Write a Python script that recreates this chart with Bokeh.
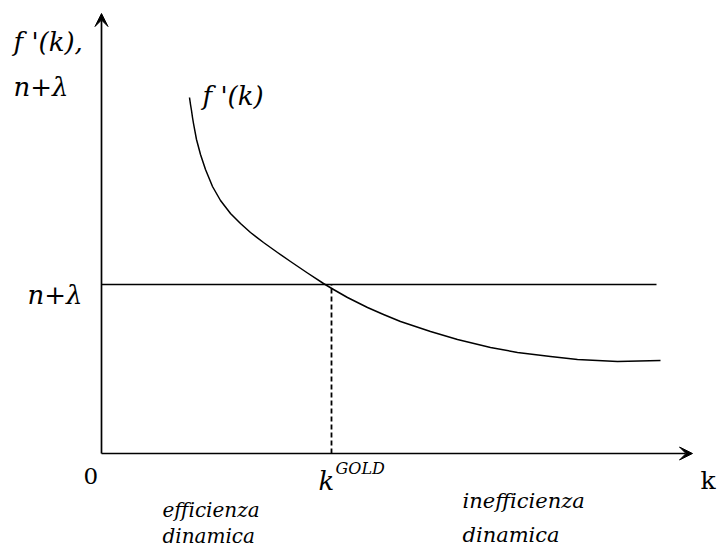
from bokeh.plotting import figure
from bokeh.models import Range1d, Arrow, VeeHead
from bokeh.core.properties import value
from bokeh.embed import file_html
from bokeh.resources import INLINE

# --- data (diagram units: origin at the axes corner) ---
curve_k = [88, 89, 90, 91, 92, 95, 99, 104, 111, 119, 129, 139, 149, 162, 176, 189, 206,
           222, 232, 246, 266, 282, 299, 329, 356, 389, 416, 449, 476, 516, 559]
curve_r = [356, 349, 343, 336, 330, 314, 299, 284, 267, 253, 240, 230, 221, 211, 201, 192, 180.5,
           170, 164, 156, 146, 139, 132, 122, 114, 106, 101, 97, 94, 92, 93]
n_lambda = 169          # level of n + lambda
k_gold = 230            # golden-rule capital stock
k_line_end = 555        # end of the horizontal n + lambda line
x_axis_end = 591
y_axis_end = 440

FONT = value("DejaVu Serif")

p = figure(width=722, height=555, output_backend="svg", toolbar_location=None,
           x_range=Range1d(-101, 621), y_range=Range1d(-102, 453),
           min_border=0, outline_line_color=None)
p.xaxis.visible = False
p.yaxis.visible = False
p.grid.visible = False

# axes with arrow heads
p.add_layout(Arrow(end=VeeHead(size=13, fill_color="black", line_color="black", line_width=1),
                   x_start=0, y_start=0, x_end=0, y_end=y_axis_end,
                   line_width=1.7, line_color="black"))
p.add_layout(Arrow(end=VeeHead(size=13, fill_color="black", line_color="black", line_width=1),
                   x_start=0, y_start=0, x_end=x_axis_end, y_end=0,
                   line_width=1.7, line_color="black"))

# horizontal n+lambda line
p.line([0, k_line_end], [n_lambda, n_lambda], line_color="black", line_width=1.5)
# dashed vertical at k gold
p.line([k_gold, k_gold], [0, n_lambda], line_color="black", line_width=1.8, line_dash="5 3")
# f'(k) curve
p.line(curve_k, curve_r, line_color="black", line_width=1.5, line_join="round")


def txt(x, y, s, size, style="italic", align="left"):
    p.text(x=[x], y=[y], text=[s], text_font=FONT, text_font_size=f"{size}px",
           text_font_style=style, text_align=align, text_baseline="alphabetic",
           text_color="black")


txt(-88, 412, "f '(k),", 26)
txt(-88, 367, "n+λ", 26)
txt(101, 358, "f '(k)", 26)
txt(-74, 159, "n+λ", 26)
txt(-18, -22, "0", 23, style="normal")
txt(217, -27, "k", 26)
txt(234, -15, "GOLD", 16)
txt(599, -27, "k", 25, style="normal")
txt(61, -56, "efficienza", 20)
txt(61, -82, "dinamica", 20)
txt(361, -47, "inefficienza", 21)
txt(361, -81, "dinamica", 21)

open("out.html", "w").write(file_html(p, INLINE))
